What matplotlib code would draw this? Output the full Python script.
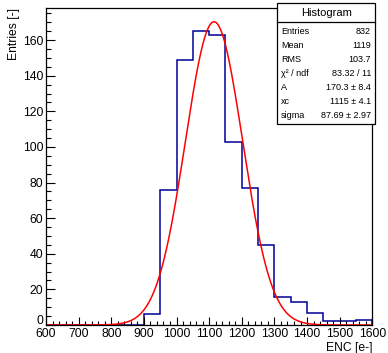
import numpy as np
import matplotlib
matplotlib.use("Agg")
import matplotlib.pyplot as plt
from matplotlib.patches import Rectangle
from matplotlib.ticker import MultipleLocator, FuncFormatter
from matplotlib.transforms import ScaledTranslation

plt.rcParams['font.family'] = ['Liberation Sans', 'DejaVu Sans']

# Data
bin_edges = np.arange(600, 1601, 50)
counts = [0, 0, 0, 0, 0, 0, 6, 76, 149, 165, 163, 103, 77, 45, 16, 13, 7, 2, 2, 3]
fit_A = 170.3
fit_xc = 1115
fit_sigma = 87.69
stats_labels = ["Entries", "Mean", "RMS", "χ² / ndf", "A", "xc", "sigma"]
stats_values = ["832", "1119", "103.7", "83.32 / 11", "170.3 ± 8.4", "1115 ± 4.1", "87.69 ± 2.97"]

W, H = 388, 353
fig = plt.figure(figsize=(W / 100, H / 100), dpi=100)
ax = fig.add_axes([46 / W, 1 - 325 / H, (372.3 - 46) / W, (325 - 7.7) / H])

ax.stairs(counts, bin_edges, color='#000099', lw=1.1)
xs = np.linspace(600, 1600, 1000)
ax.plot(xs, fit_A * np.exp(-0.5 * ((xs - fit_xc) / fit_sigma) ** 2), color='red', lw=1.1)

ax.set_xlim(600, 1600)
ax.set_ylim(0, 178.2)
ax.xaxis.set_major_locator(MultipleLocator(100))
ax.xaxis.set_minor_locator(MultipleLocator(20))
ax.yaxis.set_major_locator(MultipleLocator(20))
ax.yaxis.set_minor_locator(MultipleLocator(5))
ax.yaxis.set_major_formatter(FuncFormatter(lambda v, p: "" if abs(v) < 1e-9 else f"{v:g}"))
ax.tick_params(axis='x', which='major', direction='in', length=6, width=0.8, labelsize=8.7, pad=2.5)
ax.tick_params(axis='x', which='minor', direction='in', length=3, width=0.8)
ax.tick_params(axis='y', which='major', direction='in', length=6.5, width=0.8, labelsize=8.7, pad=2)
ax.tick_params(axis='y', which='minor', direction='in', length=3.3, width=0.8)
for s in ax.spines.values():
    s.set_linewidth(0.9)

# zero label of the y axis, lifted slightly as in the reference
ax.text(0, 0, "0", ha='right', va='bottom', fontsize=8.7,
        transform=ax.get_yaxis_transform() + ScaledTranslation(-3 / 100, -2.5 / 100, fig.dpi_scale_trans))

fig.text(372 / W, 1 - 347.5 / H, "ENC [e-]", ha='right', va='center', fontsize=8.7)
fig.text(14 / W, 1 - 8 / H, "Entries [-]", ha='center', va='top', rotation=90, fontsize=8.7)

# Stats box
bx0, bx1, by0, by1 = 277.3, 375, 2.7, 124
fig.add_artist(Rectangle((bx0 / W, 1 - by1 / H), (bx1 - bx0) / W, (by1 - by0) / H,
                         transform=fig.transFigure, facecolor='white', edgecolor='black', lw=0.9))
fig.add_artist(plt.Line2D([bx0 / W, bx1 / W], [1 - 21.7 / H, 1 - 21.7 / H],
                          transform=fig.transFigure, color='black', lw=0.9))
fig.text((bx0 + bx1) / 2 / W, 1 - 12.5 / H, "Histogram", ha='center', va='center', fontsize=8)
for i, (lab, val) in enumerate(zip(stats_labels, stats_values)):
    y = 1 - (31 + 14 * i) / H
    fig.text(281 / W, y, lab, ha='left', va='center', fontsize=6.5)
    fig.text(371 / W, y, val, ha='right', va='center', fontsize=6.5)

fig.savefig("out.png", dpi=100)
